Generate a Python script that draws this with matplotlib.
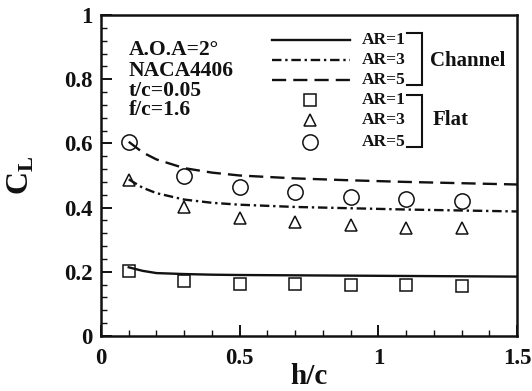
import matplotlib
matplotlib.use("Agg")
import matplotlib.pyplot as plt
from matplotlib.ticker import MultipleLocator, FormatStrFormatter

plt.rcParams['font.family'] = ['Liberation Serif', 'DejaVu Serif']
plt.rcParams['font.weight'] = 'bold'
plt.rcParams['mathtext.fontset'] = 'custom'
plt.rcParams['mathtext.bf'] = 'Liberation Serif:bold'
plt.rcParams['mathtext.rm'] = 'Liberation Serif:bold'

# Data
hc_points = [0.1, 0.3, 0.5, 0.7, 0.9, 1.1, 1.3]
flat_ar1 = [0.202, 0.171, 0.163, 0.161, 0.159, 0.158, 0.157]
flat_ar3 = [0.487, 0.401, 0.369, 0.356, 0.346, 0.338, 0.335]
flat_ar5 = [0.605, 0.499, 0.463, 0.448, 0.434, 0.427, 0.421]

hc_line = [0.1, 0.15, 0.2, 0.3, 0.4, 0.5, 0.7, 0.9, 1.1, 1.3, 1.5]
chan_ar1 = [0.214, 0.203, 0.196, 0.193, 0.191, 0.190, 0.189, 0.188, 0.187, 0.186, 0.185]
chan_ar3 = [0.488, 0.462, 0.445, 0.425, 0.415, 0.409, 0.402, 0.398, 0.394, 0.391, 0.388]
chan_ar5 = [0.605, 0.572, 0.550, 0.523, 0.509, 0.500, 0.491, 0.485, 0.480, 0.476, 0.472]

info_lines = ["A.O.A=2°", "NACA4406", "t/c=0.05", "f/c=1.6"]
ar_labels = ["AR=1", "AR=3", "AR=5"]

W, H = 532, 391
fig = plt.figure(figsize=(W / 100, H / 100), dpi=100)
ax = fig.add_axes([101 / W, 1 - 336 / H, (517 - 101) / W, (336 - 15) / H])

ink = '#111111'
dashdot = (0, (4, 1.6, 1.0, 1.6))
dashed = (0, (6, 3))
lw = 1.7

ax.plot(hc_line, chan_ar1, color=ink, lw=lw, ls='-')
ax.plot(hc_line, chan_ar3, color=ink, lw=lw, ls=dashdot)
ax.plot(hc_line, chan_ar5, color=ink, lw=lw, ls=dashed)

mk = dict(color='none', markerfacecolor='none', markeredgecolor=ink, markeredgewidth=1.1)
ax.plot(hc_points, flat_ar1, marker='s', markersize=8, **mk)
ax.plot(hc_points, flat_ar3, marker='^', markersize=9, **mk)
ax.plot(hc_points, flat_ar5, marker='o', markersize=11, **mk)

ax.set_xlim(0, 1.5)
ax.set_ylim(0, 1)
ax.xaxis.set_major_locator(MultipleLocator(0.5))
ax.xaxis.set_minor_locator(MultipleLocator(0.1))
ax.yaxis.set_major_locator(MultipleLocator(0.2))
ax.yaxis.set_minor_locator(MultipleLocator(0.04))
ax.xaxis.set_major_formatter(FormatStrFormatter('%g'))
ax.yaxis.set_major_formatter(FormatStrFormatter('%g'))
ax.tick_params(which='both', direction='in', top=False, right=False, color=ink)
ax.tick_params(which='major', length=8, width=1.4, labelsize=16.5)
ax.tick_params(which='minor', length=4, width=1.0)
ax.tick_params(axis='y', pad=6)
ax.tick_params(axis='x', pad=9)
for lab in ax.get_xticklabels() + ax.get_yticklabels():
    lab.set_fontweight('bold')
    lab.set_color(ink)
for sp in ax.spines.values():
    sp.set_linewidth(1.8)
    sp.set_color(ink)

ax.set_xlabel('h/c', fontsize=21, fontweight='bold', color=ink)
ax.xaxis.set_label_coords(0.5, -0.085)
ax.set_ylabel(r'$\mathbf{C}_\mathbf{L}$', fontsize=23, color=ink)
ax.yaxis.set_label_coords((36 - 101) / 416, 0.5)

# Info text block
for i, t in enumerate(info_lines):
    y = [0.891, 0.824, 0.762, 0.704][i]
    ax.text(0.101, y, t, fontsize=15.5, fontweight='bold', va='center', ha='left', color=ink)

# Legend: channel lines
leg_y = [0.922, 0.860, 0.798]
styles = ['-', dashdot, dashed]
for y, ls in zip(leg_y, styles):
    ax.plot([0.617, 0.898], [y, y], color=ink, lw=lw, ls=ls)
mk_y = [0.735, 0.673, 0.604]
for y, m, s in zip(mk_y, ['s', '^', 'o'], [8, 9, 11]):
    ax.plot([0.754], [y], marker=m, markersize=s, **mk)
for y, t in zip(leg_y + mk_y, ar_labels + ar_labels):
    ax.text(0.941, y, t, fontsize=12.5, fontweight='bold', va='center', ha='left', color=ink)

# Brackets
def bracket(y0, y1):
    ax.plot([1.103, 1.157, 1.157, 1.103], [y0, y0, y1, y1], color=ink, lw=1.5,
            solid_joinstyle='miter')
bracket(0.944, 0.782)
bracket(0.751, 0.589)
ax.text(1.186, 0.858, 'Channel', fontsize=15, fontweight='bold', va='center', ha='left', color=ink)
ax.text(1.197, 0.672, 'Flat', fontsize=15, fontweight='bold', va='center', ha='left', color=ink)

fig.savefig('out.png', dpi=100)
